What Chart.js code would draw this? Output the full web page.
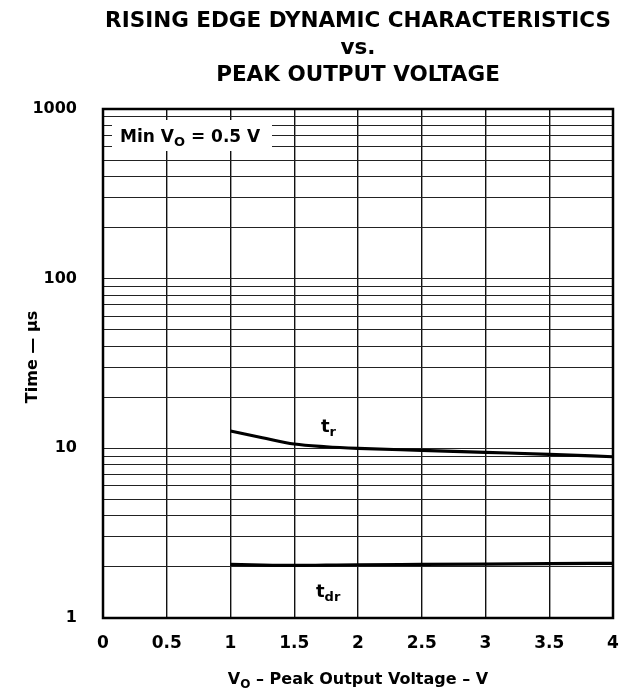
<!DOCTYPE html>
<html>
<head>
<meta charset="utf-8">
<script src="https://cdn.jsdelivr.net/npm/chart.js@4"></script>
<style>
  html, body { margin: 0; padding: 0; background: #fff; }
  #chart { display: block; }
</style>
</head>
<body>
<canvas id="chart" width="636" height="696"></canvas>
<script>
  // values
  const voltage = [1, 1.25, 1.5, 1.75, 2, 2.5, 3, 3.5, 4];
  const riseTime = [12.65, 11.55, 10.6, 10.22, 10.0, 9.73, 9.47, 9.22, 8.92];
  const delayTime = [2.07, 2.05, 2.04, 2.05, 2.06, 2.07, 2.08, 2.09, 2.1];

  const xTicks = [0, 0.5, 1, 1.5, 2, 2.5, 3, 3.5, 4];
  const yTicks = [1, 2, 3, 4, 5, 6, 7, 8, 9, 10, 20, 30, 40, 50, 60, 70, 80, 90,
    100, 200, 300, 400, 500, 600, 700, 800, 900, 1000];
  const yLabels = [1, 10, 100, 1000];

  const FONT = '"DejaVu Sans", "Liberation Sans", sans-serif';
  const bold = (px) => `bold ${px}px ${FONT}`;

  // draw runs of text where some parts are subscripts
  function drawRuns(ctx, runs, x, y, align) {
    let w = 0;
    for (const r of runs) { ctx.font = bold(r.size); w += ctx.measureText(r.text).width; }
    let cx = align === 'center' ? x - w / 2 : x;
    ctx.textAlign = 'left';
    ctx.textBaseline = 'alphabetic';
    for (const r of runs) {
      ctx.font = bold(r.size);
      ctx.fillText(r.text, cx, y + (r.dy || 0));
      cx += ctx.measureText(r.text).width;
    }
  }

  const overlay = {
    id: 'overlay',
    afterDraw(chart) {
      const { ctx, chartArea: a } = chart;
      const mid = (a.left + a.right) / 2;
      ctx.save();
      ctx.fillStyle = '#000';

      // full frame
      ctx.strokeStyle = '#000';
      ctx.lineWidth = 2.5;
      ctx.strokeRect(a.left, a.top, a.right - a.left, a.bottom - a.top);

      // title
      ctx.textAlign = 'center';
      ctx.textBaseline = 'alphabetic';
      ctx.font = bold(21.5);
      ctx.fillText('RISING EDGE DYNAMIC CHARACTERISTICS', mid, 27);
      ctx.fillText('vs.', mid, 54);
      ctx.fillText('PEAK OUTPUT VOLTAGE', mid, 81);

      // condition box
      ctx.fillStyle = '#fff';
      ctx.fillRect(112, 120, 160, 31);
      ctx.fillStyle = '#000';
      drawRuns(ctx, [
        { text: 'Min V', size: 17 },
        { text: 'O', size: 13, dy: 4 },
        { text: ' = 0.5 V', size: 17 },
      ], 120, 142, 'left');

      // curve labels
      drawRuns(ctx, [{ text: 't', size: 18 }, { text: 'r', size: 13, dy: 4 }], 321, 432, 'left');
      drawRuns(ctx, [{ text: 't', size: 18 }, { text: 'dr', size: 13, dy: 4 }], 316, 597, 'left');

      // x axis title
      drawRuns(ctx, [
        { text: 'V', size: 16 },
        { text: 'O', size: 12, dy: 4 },
        { text: ' \u2013 Peak Output Voltage \u2013 V', size: 16 },
      ], mid, 684, 'center');

      // y axis title
      ctx.translate(37, 357);
      ctx.rotate(-Math.PI / 2);
      ctx.font = bold(16);
      ctx.textAlign = 'center';
      ctx.fillText('Time \u2014 \u00b5s', 0, 0);
      ctx.restore();
    },
  };

  const tickFont = (size) => ({ family: FONT, size, weight: 'bold' });

  new Chart(document.getElementById('chart'), {
    type: 'line',
    data: {
      labels: voltage,
      datasets: [
        { label: 'tr', data: voltage.map((v, i) => ({ x: v, y: riseTime[i] })) },
        { label: 'tdr', data: voltage.map((v, i) => ({ x: v, y: delayTime[i] })) },
      ],
    },
    options: {
      responsive: false,
      animation: false,
      events: [],
      layout: { padding: { left: 0, top: 109, right: 23, bottom: 0 } },
      elements: {
        line: { borderColor: '#000', borderWidth: 3.2, cubicInterpolationMode: 'monotone', fill: false },
        point: { radius: 0 },
      },
      plugins: { legend: { display: false }, tooltip: { enabled: false }, title: { display: false } },
      scales: {
        x: {
          type: 'linear',
          min: 0,
          max: 4,
          afterBuildTicks: (s) => { s.ticks = xTicks.map((v) => ({ value: v })); },
          ticks: { autoSkip: false, color: '#000', font: tickFont(17), padding: 15, maxRotation: 0, callback: (v) => String(v) },
          grid: { color: '#111', lineWidth: 1.4, drawTicks: false },
          border: { display: false },
          afterFit: (s) => { s.height = 78; },
        },
        y: {
          type: 'logarithmic',
          min: 1,
          max: 1000,
          afterBuildTicks: (s) => { s.ticks = yTicks.map((v) => ({ value: v })); },
          ticks: {
            autoSkip: false,
            color: '#000',
            font: tickFont(16),
            padding: 26,
            callback: (v) => (yLabels.includes(v) ? String(v) : ''),
          },
          grid: { color: '#222', lineWidth: 1.1, drawTicks: false },
          border: { display: false },
          afterFit: (s) => { s.width = 103; },
        },
      },
    },
    plugins: [overlay],
  });
</script>
</body>
</html>
